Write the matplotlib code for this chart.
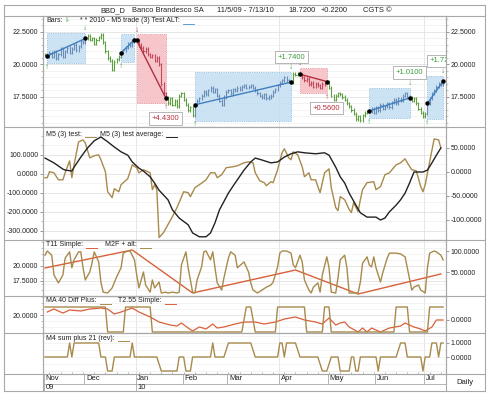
import numpy as np
import pandas as pd
import matplotlib
matplotlib.use("Agg")
import matplotlib.pyplot as plt
from matplotlib.lines import Line2D
from matplotlib.patches import Rectangle
from matplotlib.ticker import FormatStrFormatter

plt.rcParams['font.family'] = ['Liberation Sans', 'DejaVu Sans']

W, H = 490, 393

# ---------------- data ----------------
dates = pd.bdate_range("2009-11-05", "2010-07-13")

close = [20.8, 20.65, 20.9, 20.6, 21.0, 20.5, 20.8, 21.2, 20.6, 21.0, 21.3, 20.9, 21.2, 21.5, 21.1, 21.4, 21.8, 21.7,
         22.0, 22.2, 21.9, 22.0, 21.6, 21.9, 22.1, 22.3, 21.7,
         21.0, 20.5, 20.3, 19.6, 20.2, 20.4, 20.6,
         20.9, 21.1, 21.3, 21.6, 21.5, 21.8, 21.9,
         21.85, 21.5, 21.3, 21.0, 21.2, 20.8, 20.6, 20.7, 20.3, 20.5, 20.0, 18.5, 17.8,
         17.42, 17.0, 17.4, 16.9, 17.2, 16.8, 17.6, 17.8, 17.3, 16.9, 16.5, 16.7, 16.1, 16.9,
         17.2, 17.4, 17.6, 17.9, 17.7, 18.0, 18.2, 17.9, 18.1, 17.6, 17.2, 16.9, 17.5, 17.9, 18.0, 17.8,
         18.1, 18.0, 18.2, 18.1, 18.3, 18.4, 18.2, 18.3, 18.4, 18.2, 18.0, 17.8, 17.6, 17.5, 17.7, 17.4,
         17.5, 17.6, 17.9, 18.1, 18.4, 18.6, 18.8, 19.0, 18.8, 18.7,
         18.64, 19.3, 19.2, 19.3,
         19.25, 19.0, 18.8, 18.9, 18.5, 18.6, 18.3, 18.5, 18.4, 18.2, 18.5, 18.6,
         18.69, 18.2, 17.6, 17.3, 17.6, 17.8, 17.7, 17.5, 17.3, 17.0, 16.8, 16.5, 16.2, 15.8, 16.0, 15.7,
         16.1, 16.3, 16.4,
         16.42, 16.6, 16.3, 16.7, 16.5, 16.9, 16.6, 16.8, 17.0, 16.7, 17.1, 17.3, 17.0, 17.4, 17.2, 17.6,
         17.8, 17.5, 17.43,
         17.2, 17.4, 17.0, 16.6, 16.3, 16.0, 16.2,
         17.0, 17.4, 17.8, 18.0, 18.3, 18.5, 18.5, 18.72]

# trades of "M5 trade (3) Test ALT"
trade_in = [1, 34, 41, 67, 114, 145, 171]
trade_out = [18, 40, 54, 110, 126, 163, 178]
price_in = [20.65, 20.90, 21.85, 16.90, 19.25, 16.42, 17.00]
price_out = [22.00, 21.90, 17.42, 18.64, 18.69, 17.43, 18.72]
side = ["long", "long", "short", "long", "short", "long", "long"]

m5_day = [0, 1, 2, 4, 6, 8, 9, 11, 12, 13, 15, 17, 18, 20, 22, 24, 25, 27, 28, 30,
          31, 33, 34, 37, 39, 41, 42, 44, 46, 47, 48, 49, 50, 51, 53, 55, 57, 59, 62, 64,
          65, 67, 69, 72, 74, 76, 77, 79, 81, 84, 86, 89, 91, 93, 94, 96, 98, 99, 101, 102,
          104, 106, 107, 109, 110, 111, 113, 115, 116, 118, 119, 121, 122, 123, 125, 127, 128, 130, 131, 132,
          134, 136, 137, 138, 140, 141, 142, 144, 147, 148, 150, 152, 154, 157, 159, 161, 162, 164, 166, 168,
          169, 170, 172, 174, 176, 177]
m5_test = [-21, -21, 11, 5, -32, -32, 5, 68, -21, 47, 168, 179, 163, 84, 95, 100, 74, 11, -95, -126,
           -79, -95, -58, -26, 47, 32, 5, 21, 11, 5, -84, -58, -84, -337, -311, -268, -226, -179, -95, -100,
           -121, -74, -58, -32, 5, 5, -21, -5, 32, 37, 42, 58, 63, 58, 5, -37, -47, -63, -42, -47,
           21, 111, 132, 84, 74, 116, 100, 37, -16, 5, -32, -32, -68, -100, 5, 26, -74, -179, -195, -121,
           -137, -189, -205, -153, -200, -137, -84, -47, -42, -84, -68, -5, 5, 47, 58, 79, 58, 21, 16, -68,
           -95, -58, 63, 184, 179, 137]

m5_avg_day = [0, 4, 8, 9, 12, 13, 16, 19, 22, 25, 28, 31, 34, 37, 39, 42, 44, 47, 49, 51,
              55, 57, 60, 64, 66, 69, 72, 74, 76, 78, 82, 85, 89, 92, 94, 97, 101, 104, 107, 110,
              113, 116, 121, 125, 127, 130, 132, 134, 136, 139, 141, 144, 148, 150, 152, 154, 157, 159, 161, 163,
              165, 169, 171, 173, 175, 177]
m5_avg = [29, 19, 6, 4, 2, 10, 31, 50, 65, 73, 63, 52, 42, 35, 21, 8, 2, -10, -23, -38,
          -58, -79, -96, -110, -127, -135, -135, -127, -106, -79, -44, -23, 4, 21, 29, 25, 19, 21, 31, 38,
          42, 40, 38, 40, 35, 10, -10, -23, -44, -69, -85, -94, -94, -100, -96, -83, -69, -58, -44, -23,
          0, 0, 4, 19, 35, 50]

t11_day = [0, 39, 66, 112, 140, 177]
t11_simple = [19.67, 22.67, 15.50, 19.33, 15.33, 18.67]

m2f_day = [0, 1, 3, 4, 6, 8, 9, 11, 12, 13, 15, 16, 17, 18, 20, 21, 22, 24, 25, 26,
           28, 30, 32, 34, 35, 37, 38, 40, 41, 42, 44, 45, 47, 48, 49, 51, 52, 54, 55, 57,
           59, 60, 61, 63, 64, 66, 67, 68, 70, 71, 72, 74, 75, 76, 77, 79, 80, 82, 83, 85,
           86, 89, 91, 92, 93, 95, 97, 99, 101, 102, 104, 105, 106, 108, 110, 111, 112, 114, 115, 116,
           118, 119, 120, 122, 123, 124, 126, 127, 128, 130, 131, 132, 134, 135, 136, 140, 141, 142, 144, 145,
           146, 147, 148, 150, 151, 153, 154, 157, 159, 161, 162, 164, 165, 167, 168, 170, 171, 172, 174, 175,
           177, 178]
m2f_alt = [90, 100, 90, 43, 24, 43, 83, 98, 60, 79, 98, 98, 60, 31, 50, 71, 98, 74, 26, 2,
           0, 12, 38, 60, 95, 100, 100, 79, 43, 12, 50, 19, 2, 31, 12, 26, 0, 2, 0, 2,
           0, 2, 67, 98, 60, 2, 0, 31, 62, 98, 100, 79, 98, 60, 24, 7, 36, 83, 98, 90,
           60, 74, 50, 24, 7, 0, 7, 14, 19, 26, 62, 95, 100, 100, 95, 67, 60, 90, 74, 31,
           7, 0, 14, 24, 2, 43, 86, 60, 2, 0, 36, 79, 90, 60, 0, 0, 26, 71, 86, 67,
           62, 86, 60, 26, 48, 83, 95, 95, 93, 86, 60, 7, 14, 19, 7, 0, 60, 95, 100, 98,
           90, 79]

ma40_day = [0, 27, 28, 35, 36, 47, 48, 88, 90, 92, 94, 103, 104, 116, 117, 124, 125, 127, 128,
            156, 157, 162, 163, 171, 172, 178]
ma40_diff = [1, 1, -1, -1, 1, 1, -1, -1, 1, 1, -1, -1, 1, 1, -1, -1, 1, 1, -1,
             -1, 1, 1, -1, -1, 1, 1]

t255_day = [1, 4, 8, 11, 16, 20, 25, 28, 31, 34, 39, 42, 47, 51, 56, 59, 61, 64, 66, 69,
            72, 75, 77, 80, 85, 89, 94, 98, 103, 107, 112, 116, 121, 124, 127, 130, 132, 134, 136, 140,
            142, 144, 146, 150, 154, 159, 161, 165, 168, 170, 173, 175, 178]
t255_simple = [20.5, 21.0, 20.33, 20.83, 20.67, 21.0, 21.17, 21.0, 20.17, 20.5,
               21.17, 20.5, 19.67, 18.83, 18.33, 18.17, 18.67, 17.83, 17.33, 18.0,
               17.67, 18.5, 17.83, 18.0, 18.5, 18.83, 18.83, 18.5, 18.83, 19.33,
               19.67, 19.17, 18.83, 18.5, 19.5, 18.33, 18.67, 18.83, 18.0, 17.17,
               17.83, 17.17, 17.83, 17.17, 17.83, 18.17, 18.67, 18.0, 17.67, 17.33,
               18.0, 19.17, 19.17]

m4_day = [0, 10, 11, 12, 13, 24, 25, 27, 28, 30, 31, 38, 39, 40, 50, 52, 59, 60, 62, 63,
          65, 66, 74, 75, 76, 80, 82, 92, 94, 104, 105, 106, 107, 108, 112, 114, 122, 124, 126,
          128, 131, 132, 136, 137, 138, 139, 140, 141, 148, 149, 150, 157, 159, 161, 162, 168, 169, 170, 172,
          173, 175, 176, 177, 178]
m4_sum = [0, 0, 1, 0, 1, 1, 0, 0, -1, -1, 0, 0, 1, 0, 0, -1, -1, 0, 0, -1,
          -1, 0, 0, 1, 0, 0, 1, 1, 0, 0, 1, 1, 0, 1, 1, 0, 0, -1, -1,
          0, 0, -1, -1, 0, 0, -1, -1, 0, 0, -1, 0, 0, 1, 1, 0, 0, -1, 0, 0,
          1, 1, 0, 1, 1]

# ---------------- colours ----------------
TAN = '#a88a4c'
RED = '#d9603b'
BLK = '#222222'
GREEN_BAR = '#5e9f40'
GREEN_TXT = '#3c9a3c'
RED_TXT = '#b8323a'
FRAME = '#a8a8a8'

fig = plt.figure(figsize=(W / 100, H / 100), dpi=100)
fig.patch.set_facecolor('white')


def fx(px):
    return px / W


def fy(py):
    return 1 - py / H


XL, XR = 43, 446
XLIM = (-0.9, 179.3)

month_start = [i for i in range(len(dates)) if i == 0 or dates[i].month != dates[i - 1].month]
quarter_start = [i for i in month_start if dates[i].month in (1, 4, 7)]
mondays = [i for i, d in enumerate(dates) if d.weekday() == 0]


def panel(top, bottom):
    ax = fig.add_axes([fx(XL), fy(bottom), fx(XR - XL), (bottom - top) / H])
    ax.set_xlim(*XLIM)
    ax.set_xticks([])
    for s in ax.spines.values():
        s.set_color(FRAME)
        s.set_linewidth(0.8)
    for q in quarter_start:
        ax.axvline(q - 0.5, color='#e2e2e2', lw=0.6, zorder=0)
    ax.set_axisbelow(True)
    return ax


def yaxis(ax, ylim, ticks, minor, right=False, grid=True):
    ax.set_ylim(*ylim)
    ax.set_yticks(ticks)
    ax.set_yticks(minor, minor=True)
    ax.yaxis.set_major_formatter(FormatStrFormatter('%.4f'))
    if right:
        ax.yaxis.tick_right()
    ax.tick_params(axis='y', which='major', length=2, width=0.6, color='#888888',
                   labelsize=5, labelcolor='#222222', pad=1.5)
    ax.tick_params(axis='y', which='minor', length=1.2, width=0.5, color='#aaaaaa')
    if grid:
        ax.grid(axis='y', which='major', color='#dcdcdc', lw=0.5)
        ax.grid(axis='y', which='minor', color='#eeeeee', lw=0.5)


def twin(ax):
    axr = ax.twinx()
    axr.set_xlim(*XLIM)
    for s in axr.spines.values():
        s.set_visible(False)
    return axr


# ---------------- price panel ----------------
ax_p = panel(16, 127)
PYL = (15.19, 23.73)
yaxis(ax_p, PYL, [17.5, 20.0, 22.5], np.arange(15.5, 23.6, 0.5))
ax_pr = twin(ax_p)
yaxis(ax_pr, PYL, [17.5, 20.0, 22.5], np.arange(15.5, 23.6, 0.5), right=True, grid=False)

c = np.array(close)
o = np.r_[c[0], c[:-1]]
hi = np.maximum(o, c) + 0.12
lo = np.minimum(o, c) - 0.12
idx = np.arange(len(c))

bar_col = np.array([GREEN_BAR] * len(c), dtype=object)
for a, b, s in zip(trade_in, trade_out, side):
    bar_col[a:b + 1] = '#6a8db8' if s == 'long' else '#c04a5a'

for k, (a, b, pin, pout, s) in enumerate(zip(trade_in, trade_out, price_in, price_out, side)):
    top = hi[a:b + 1].max() + 0.3
    bot = lo[a:b + 1].min() - 0.3
    # a reversal on the next bar is marked by the new entry arrow only
    reversal = k + 1 < len(trade_in) and trade_in[k + 1] - b <= 1
    if s == 'long':
        fc, ec, lc, tc = '#c3def3', '#6aa6d8', '#3f7fbf', GREEN_TXT
    else:
        fc, ec, lc, tc = '#f6bcc2', '#d9707e', '#b0303f', RED_TXT
    ax_p.add_patch(Rectangle((a, bot), b - a, top - bot, facecolor=fc, edgecolor=ec,
                             lw=0.6, ls=':', alpha=0.85, zorder=1))
    ax_p.plot([a, b], [pin, pout], color=lc, lw=1.0, zorder=4)
    ax_p.plot([a, b], [pin, pout], 'o', color='black', ms=2.2, zorder=5)
    if s == 'long':
        ax_p.text(a, bot - 0.05, '↑', color=tc, ha='center', va='top', fontsize=6, zorder=5)
        if not reversal:
            ax_p.text(b, top + 0.05, '↓', color=tc, ha='center', va='bottom', fontsize=6, zorder=5)
        ly = top + 1.15
        profit = pout - pin
    else:
        ax_p.text(a, top + 0.05, '↓', color=tc, ha='center', va='bottom', fontsize=6, zorder=5)
        if not reversal:
            ax_p.text(b, bot - 0.05, '↑', color=tc, ha='center', va='top', fontsize=6, zorder=5)
        ly = bot - 1.15
        profit = pin - pout
    if ly + 0.5 < PYL[1]:
        ax_p.text(b, ly, f"+{profit:.4f}", ha='center', va='center', fontsize=5.5, color=tc,
                  bbox=dict(boxstyle='square,pad=0.35', fc='white', ec='#aaaaaa', lw=0.6),
                  clip_on=True, zorder=6)

ax_p.vlines(idx, lo, hi, colors=bar_col, lw=0.8, zorder=3)
ax_p.hlines(c, idx, idx + 0.5, colors=bar_col, lw=0.8, zorder=3)

# ---------------- M5 panel ----------------
ax_m5 = panel(127, 240)
yaxis(ax_m5, (-347, 247), [-300, -200, -100, 0, 100], np.arange(-350, 250, 50))
ax_m5r = twin(ax_m5)
yaxis(ax_m5r, (-141.7, 93.75), [-100, -50, 0, 50], [], right=True, grid=False)
ax_m5.plot(m5_day, m5_test, color=TAN, lw=1.0, zorder=3)
ax_m5r.plot(m5_avg_day, m5_avg, color=BLK, lw=1.0, zorder=3)

# ---------------- T11 panel ----------------
ax_t = panel(240, 296)
yaxis(ax_t, (15.0, 24.33), [17.5, 20.0], np.arange(15, 24.5, 1.0))
ax_tr = twin(ax_t)
yaxis(ax_tr, (-7.14, 126.2), [50, 100], [], right=True, grid=False)
ax_t.plot(t11_day, t11_simple, color=RED, lw=1.0, zorder=3)
ax_tr.plot(m2f_day, m2f_alt, color=TAN, lw=1.0, zorder=3)

# ---------------- MA panel ----------------
ax_ma = panel(296, 333)
yaxis(ax_ma, (17.0, 23.17), [20.0], np.arange(17, 23.2, 1.0))
ax_mar = twin(ax_ma)
yaxis(ax_mar, (-1.08, 1.88), [0.0], [], right=True, grid=False)
ax_mar.plot(ma40_day, ma40_diff, color=TAN, lw=1.0, zorder=3)
ax_ma.plot(t255_day, t255_simple, color=RED, lw=0.9, zorder=3)

# ---------------- M4 panel ----------------
ax_m4 = panel(333, 374)
ax_m4.set_ylim(-1.214, 1.714)
ax_m4.set_yticks([])
ax_m4.set_yticks(np.arange(-1, 1.75, 0.5), minor=True)
ax_m4.grid(axis='y', which='minor', color='#eeeeee', lw=0.5)
ax_m4.tick_params(axis='y', which='minor', length=0)
ax_m4r = twin(ax_m4)
yaxis(ax_m4r, (-1.214, 1.714), [0.0, 1.0], [], right=True, grid=False)
ax_m4r.plot(m4_day, m4_sum, color=TAN, lw=1.0, zorder=3)
ax_m4.set_xticks(mondays, minor=True)
ax_m4.tick_params(axis='x', which='minor', direction='in', length=1.8, width=0.5,
                  color='#999999', bottom=True)

# ---------------- time axis row ----------------
ax_time = fig.add_axes([fx(XL), fy(391), fx(XR - XL), 17 / H])
ax_time.set_xlim(*XLIM)
ax_time.set_ylim(0, 1)
ax_time.axis('off')
mid = (391 - 384) / 17
ax_time.axhline(mid, color=FRAME, lw=0.6)
for m in month_start:
    xpos = max(m - 0.5, XLIM[0])
    year_break = (m == 0) or dates[m].month == 1
    ax_time.plot([xpos, xpos], [0 if year_break else mid, 1], color=FRAME, lw=0.6)
    ax_time.text(xpos + 0.8, (1 + mid) / 2, dates[m].strftime('%b'), fontsize=5.5,
                 color='#222222', va='center', ha='left')
    if year_break:
        ax_time.text(xpos + 0.8, mid / 2 - 0.02, dates[m].strftime('%y'), fontsize=5.5,
                     color='#222222', va='center', ha='left')


# ---------------- frame ----------------
def hline(y, x0=4, x1=485, **kw):
    fig.add_artist(Line2D([fx(x0), fx(x1)], [fy(y), fy(y)], color=FRAME, lw=0.8, **kw))


def vline(x, y0, y1, **kw):
    fig.add_artist(Line2D([fx(x), fx(x)], [fy(y0), fy(y1)], color=FRAME, lw=0.8, **kw))


for y in (5, 16, 127, 240, 296, 333, 374, 391):
    hline(y)
vline(4, 5, 391)
vline(485, 5, 391)
vline(XL, 16, 391)
vline(XR, 16, 391)
fig.text(fx(465), fy(382.5), 'Daily', fontsize=5.5, color='#222222', ha='center', va='center')

# ---------------- header ----------------
renderer = fig.canvas.get_renderer()
span = f"{dates[0].month}/{dates[0].day}/{dates[0]:%y} - {dates[-1].month}/{dates[-1].day}/{dates[-1]:%y}"
header = [(100, 'BBD_D'), (132, 'Banco Brandesco SA'), (217, span),
          (288, f"{close[-1]:.4f}"), (312, f"{close[-1] - close[-2]:+.4f}"), (363, 'CGTS ©')]
prev_end = 0
for x, s in header:
    x = max(x, prev_end + 5)
    t = fig.text(fx(x), fy(11), s, fontsize=5.4, va='center', color='#222222')
    prev_end = t.get_window_extent(renderer).x1


# ---------------- legends ----------------
def legend_item(x, y, label, color):
    t = fig.text(fx(x), fy(y), label, fontsize=5, color='#222222', va='center', ha='left')
    bb = t.get_window_extent(renderer)
    x0 = bb.x1 + 3
    yb = bb.y0 + 0.5
    fig.add_artist(Line2D([x0 / W, (x0 + 11) / W], [yb / H, yb / H], color=color, lw=0.7))


t = fig.text(fx(46), fy(21), 'Bars:', fontsize=5, color='#222222', va='center')
bb = t.get_window_extent(renderer)
fig.text((bb.x1 + 3) / W, fy(21), 'I-', fontsize=5, color=GREEN_TXT, va='center')
legend_item(80, 21, '* * 2010 - M5 trade (3) Test ALT:', '#5aa0d8')
legend_item(46, 134, 'M5 (3) test:', TAN)
legend_item(100, 134, 'M5 (3) test average:', BLK)
legend_item(46, 245, 'T11 Simple:', RED)
legend_item(105, 245, 'M2F + alt:', TAN)
legend_item(46, 301, 'MA 40 Diff Plus:', TAN)
legend_item(118, 301, 'T2.55 Simple:', RED)
legend_item(46, 338, 'M4 sum plus 21 (rev):', TAN)

fig.savefig('out.png', dpi=100)
